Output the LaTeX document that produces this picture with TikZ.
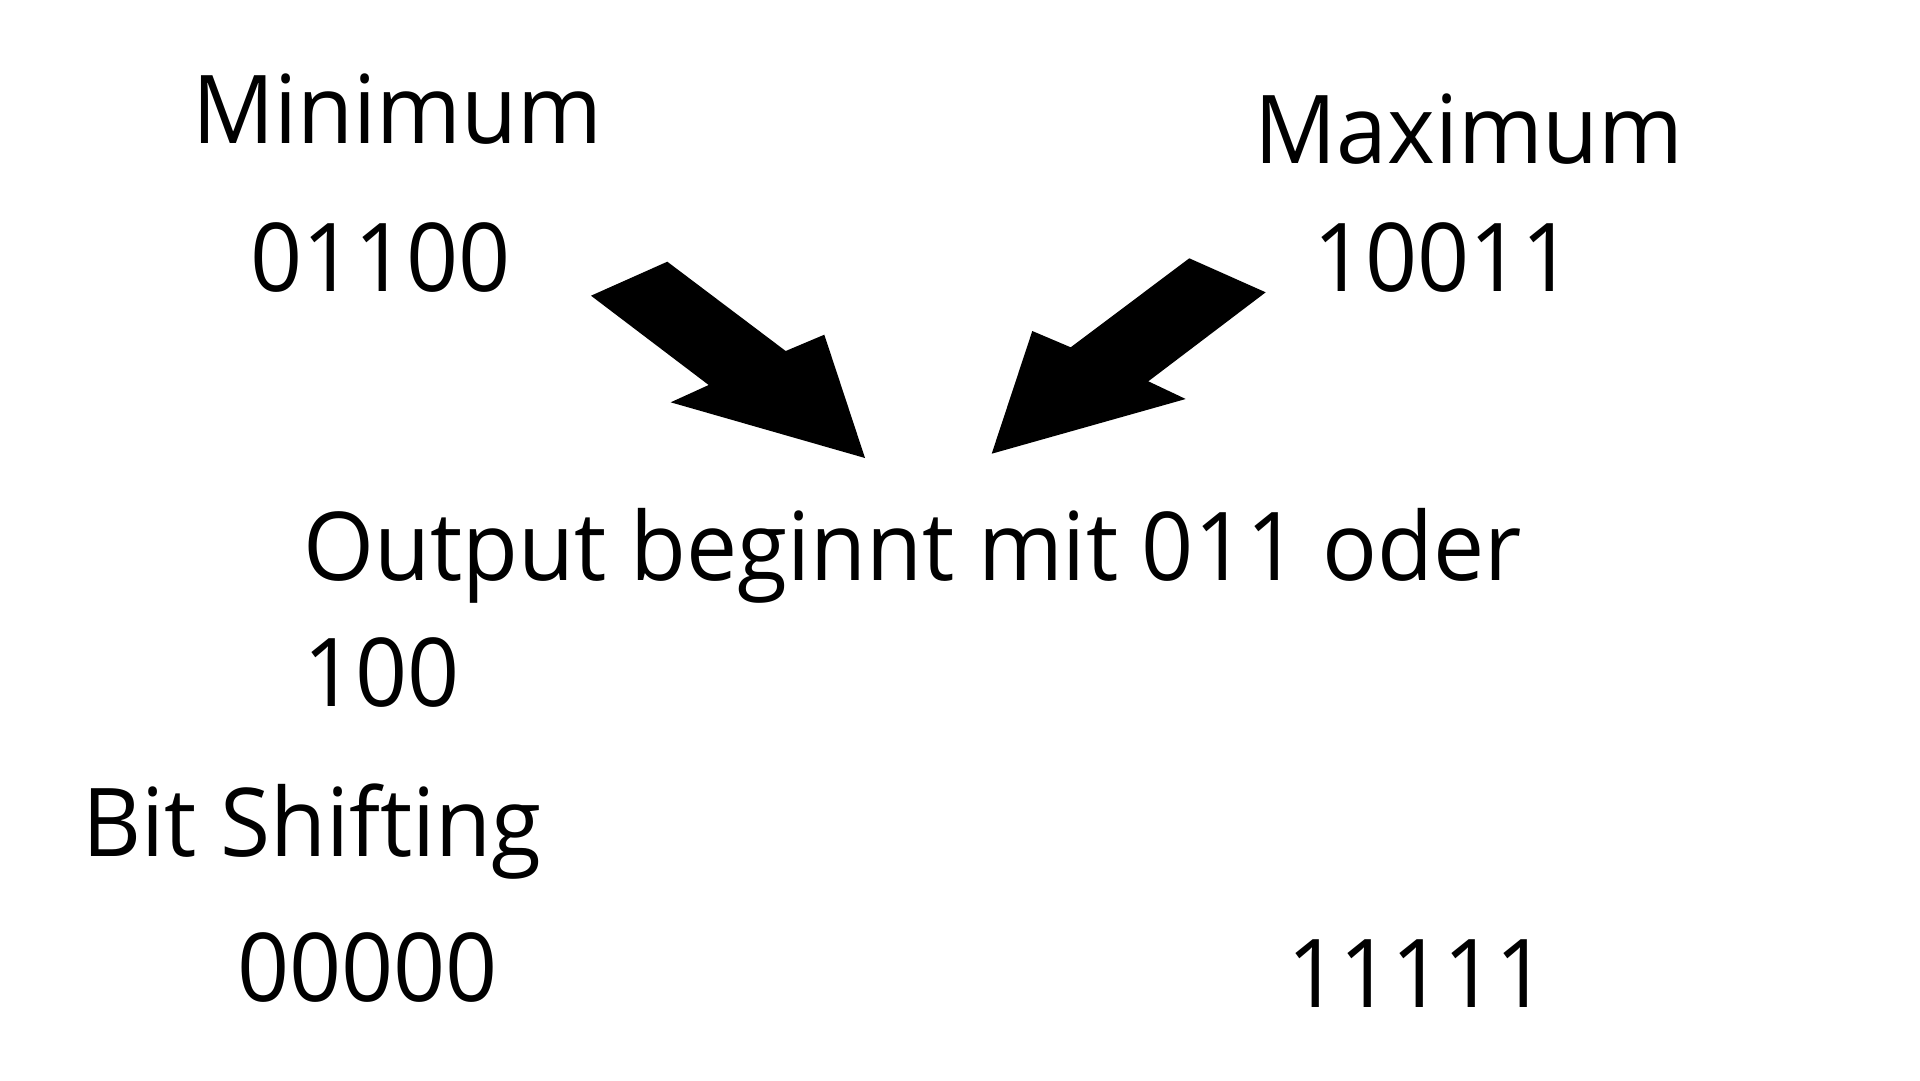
\documentclass[tikz,border=0pt]{standalone}
\usepackage{fontspec}
\setmainfont{Open Sans}[FakeStretch=0.96]
\begin{document}
\begin{tikzpicture}[x=1pt,y=-1pt,
  lbl/.style={anchor=base west, inner sep=0pt, font=\fontsize{95}{114}\selectfont},
  blockarrow/.style={fill=black, draw=none}]
\useasboundingbox[fill=white] (0,0) rectangle (1920,1080);
% texts
\node[lbl] (min)    at (192,143) {Minimum};
\node[lbl] (minval) at (250,291) {01100};
\node[lbl] (max)    at (1254,163) {Maximum};
\node[lbl] (maxval) at (1313,291) {10011};
\node[lbl] (out1)   at (303,580) {Output beginnt mit 011 oder};
\node[lbl] (out2)   at (303,706) {100};
\node[lbl] (bits)   at (82,856) {Bit Shifting};
\node[lbl] (zeros)  at (237,1001) {00000};
\node[lbl] (ones)   at (1287,1007) {11111};
% left block arrow (from Minimum towards output)
\fill[blockarrow] (591,295.7) -- (667.3,261.7) -- (785.7,351) -- (824.3,334.7)
  -- (865,458) -- (670.7,402.3) -- (708.7,385) -- cycle;
% right block arrow (from Maximum towards output)
\fill[blockarrow] (1189.3,258.3) -- (1265.7,292.3) -- (1148.3,381.3) -- (1185.7,399)
  -- (991.7,453.7) -- (1032.3,331) -- (1070.7,347.3) -- cycle;
\end{tikzpicture}
\end{document}
